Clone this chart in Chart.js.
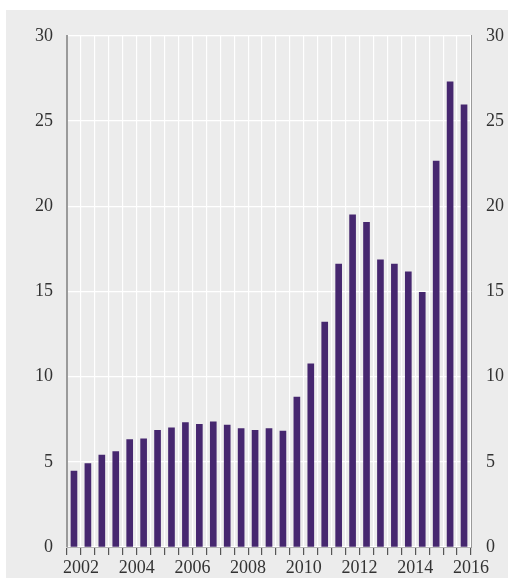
<!DOCTYPE html>
<html>
<head>
<meta charset="utf-8">
<script src="https://cdn.jsdelivr.net/npm/chart.js@4.4.1/dist/chart.umd.min.js"></script>
<style>
  html, body { margin: 0; padding: 0; background: #fff; }
  #marco {
    position: absolute; left: 6px; top: 10px;
    width: 502px; height: 568px; background: #ececec;
  }
  #grafica { display: block; }
</style>
</head>
<body>
<div id="marco"><canvas id="grafica" width="502" height="568"></canvas></div>
<script>
// ========== Datos ==========

// Semestres (segundo semestre de 2001 a segundo semestre de 2015)
const periodos = [
    '2001-S2',
    '2002-S1', '2002-S2', '2003-S1', '2003-S2', '2004-S1', '2004-S2',
    '2005-S1', '2005-S2', '2006-S1', '2006-S2', '2007-S1', '2007-S2',
    '2008-S1', '2008-S2', '2009-S1', '2009-S2', '2010-S1', '2010-S2',
    '2011-S1', '2011-S2', '2012-S1', '2012-S2', '2013-S1', '2013-S2',
    '2014-S1', '2014-S2', '2015-S1', '2015-S2'
];

const valores = [
    4.45,
    4.9, 5.4, 5.6, 6.3, 6.35, 6.85,
    7.0, 7.3, 7.2, 7.35, 7.15, 6.95,
    6.85, 6.95, 6.8, 8.8, 10.75, 13.2,
    16.6, 19.5, 19.05, 16.85, 16.6, 16.15,
    14.95, 22.65, 27.3, 25.95
];

// Etiquetas de año: van en el borde de inicio de cada año (cada 2 semestres)
const aniosEtiqueta = [2002, 2004, 2006, 2008, 2010, 2012, 2014, 2016];
const ticksY = [0, 5, 10, 15, 20, 25, 30];

// Bordes entre semestres: 30 posiciones (0..29); el año N empieza en el borde 1 + 2*(N-2002)
const bordes = Array.from({ length: periodos.length + 1 }, (_, i) => {
    const anio = 2001 + (i + 1) / 2;
    return aniosEtiqueta.includes(anio) ? String(anio) : '';
});

// ========== Estilos ==========

const fuente = { family: '"Liberation Serif", "DejaVu Serif", serif', size: 18 };
const colorTexto = '#333333';
const colorBarra = '#46276f';

// ========== Gráfica ==========

new Chart(document.getElementById('grafica'), {
    type: 'bar',
    data: {
        labels: periodos,
        datasets: [{
            data: valores,
            backgroundColor: colorBarra,
            borderWidth: 0,
            barThickness: 6,
            xAxisID: 'x',
            yAxisID: 'y',
        }]
    },
    options: {
        responsive: false,
        animation: false,
        events: [],
        layout: { padding: { top: 20, left: 0, right: 0, bottom: 0 } },
        plugins: {
            legend: { display: false },
            tooltip: { enabled: false },
        },
        scales: {
            x: {
                type: 'category',
                position: 'bottom',
                weight: 0,
                offset: true,
                grid: {
                    offset: true,
                    color: '#ffffff',
                    lineWidth: 1.2,
                    tickColor: '#555555',
                    tickLength: 8,
                    drawTicks: true,
                },
                border: { display: true, color: '#b5b5b5', width: 1 },
                ticks: { display: false },
                afterFit: axis => { axis.height = 8; },
            },
            x2: {
                type: 'category',
                labels: bordes,
                position: 'bottom',
                weight: 1,
                offset: false,
                grid: { display: false, drawTicks: false },
                border: { display: false },
                ticks: {
                    font: fuente,
                    color: colorTexto,
                    padding: 2,
                    autoSkip: false,
                    maxRotation: 0,
                },
                afterFit: axis => { axis.height = 23; },
            },
            y: {
                position: 'left',
                min: 0,
                max: 30,
                grid: { color: '#ffffff', lineWidth: 1.2, drawTicks: false },
                border: { display: true, color: '#9a9a9a', width: 2 },
                ticks: { font: fuente, color: colorTexto, padding: 14 },
                afterBuildTicks: axis => { axis.ticks = ticksY.map(v => ({ value: v })); },
                afterFit: axis => { axis.width = 61; },
            },
            y2: {
                position: 'right',
                min: 0,
                max: 30,
                grid: { display: false, drawTicks: false },
                border: { display: true, color: '#9a9a9a', width: 1 },
                ticks: { font: fuente, color: colorTexto, padding: 15 },
                afterBuildTicks: axis => { axis.ticks = ticksY.map(v => ({ value: v })); },
                afterFit: axis => { axis.width = 37; },
            },
        }
    }
});
</script>
</body>
</html>
